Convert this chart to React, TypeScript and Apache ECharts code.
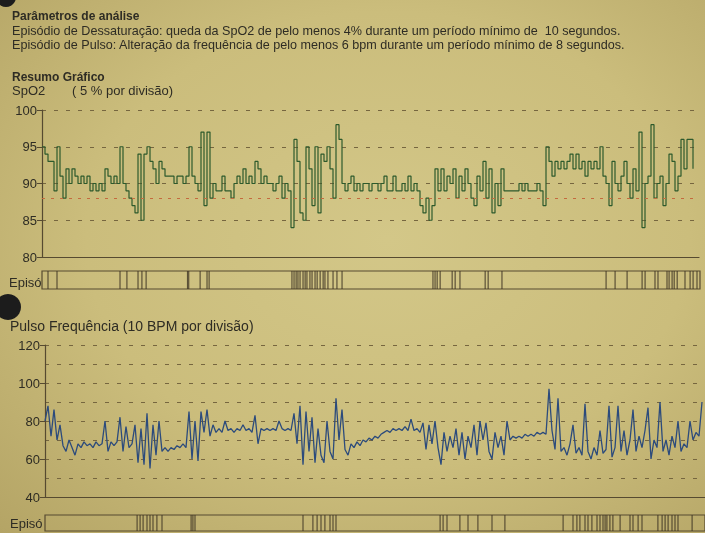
import React, { useEffect, useRef } from "react";
import * as echarts from "echarts";

const headerTitle = "Parâmetros de análise";
const headerLine1 = "Episódio de Dessaturação: queda da SpO2 de pelo menos 4% durante um período mínimo de  10 segundos.";
const headerLine2 = "Episódio de Pulso: Alteração da frequência de pelo menos 6 bpm durante um período mínimo de 8 segundos.";
const summaryTitle = "Resumo Gráfico";
const spo2Title = "SpO2";
const spo2Scale = "( 5 % por divisão)";
const pulseTitle = "Pulso Frequência (10 BPM por divisão)";
const episodeLabel = "Episó";

const spo2Ticks = [80, 85, 90, 95, 100];
const pulseTicks = [40, 60, 80, 100, 120];
const spo2Threshold = 88;

const spo2Values = [
  95, 94, 93, 93, 89, 95, 91, 88, 92, 90,
  92, 91, 90, 91, 90, 91, 89, 90, 89, 90,
  89, 92, 91, 90, 91, 90, 95, 90, 89, 88,
  87, 86, 94, 85, 94, 95, 93, 92, 90, 93,
  92, 91, 91, 91, 90, 91, 91, 90, 91, 95,
  91, 90, 89, 97, 87, 97, 88, 90, 89, 89,
  91, 89, 89, 88, 90, 91, 90, 92, 90, 91,
  90, 93, 92, 90, 91, 90,
  90, 89, 90, 91, 88, 90, 89, 84, 96, 93,
  86, 85, 95, 92, 87, 95, 86, 94, 93, 95,
  92, 88, 98, 96, 90,
  89, 90, 91, 89, 90, 89, 90, 90, 89, 90,
  90, 89, 90, 91, 89, 89, 91, 89, 89, 90,
  89, 91, 89, 90, 89, 87, 86, 88, 85, 87,
  92, 89, 92, 89, 91, 90, 92, 88, 91, 89,
  92, 90, 88, 87, 91, 89, 93, 88, 92, 86,
  90, 87, 92, 89, 89, 89, 89, 89, 90, 89,
  90, 89, 89, 89, 90, 89, 87, 95, 93, 91,
  93, 92, 93, 92, 93, 94, 92, 94, 92, 93,
  91, 93, 92, 93, 92, 95, 91, 90, 87, 93,
  90, 89, 91, 93, 90, 88, 92, 89, 97, 84,
  90, 91, 98, 88, 90, 91, 87, 90, 94, 93,
  89, 91, 96, 92, 96, 96, 92,
];

const pulseValues = [
  80, 88, 72, 86, 70, 78, 67, 64, 70, 66,
  62, 68, 66, 69, 67, 68, 66, 69, 67, 68,
  80, 64, 69, 67, 69, 82, 64, 77, 66, 68,
  78, 58, 76, 57, 84, 55, 78, 62, 80, 64,
  66, 64, 66, 65, 67, 66, 68, 66, 85, 60,
  80, 59, 85, 74, 86, 72, 78, 74, 76, 74,
  80, 75, 76, 74, 76, 75, 78, 75, 76, 74,
  83, 68, 76, 75, 76, 75, 76, 75, 80, 76,
  75, 76, 75, 84, 68, 88, 57, 85, 64, 82,
  58, 76, 62, 58, 80, 64, 60, 92, 70, 86,
  65, 62, 68, 66, 69, 67, 70, 69, 71, 70,
  72, 71, 73, 74, 75, 74, 76, 75, 76, 75,
  77, 75, 81, 75, 76, 74, 79, 65, 78, 68,
  80, 66, 57, 74, 64, 72, 66, 76, 62, 74,
  60, 72, 66, 78, 62, 80, 70, 79, 64, 60,
  74, 66, 72, 62, 80, 70, 72, 71, 72, 71,
  73, 72, 73, 72, 74, 73, 74, 73, 97, 75,
  65, 92, 64, 66, 62, 68, 78, 63, 66, 62,
  89, 64, 60, 66, 62, 75, 63, 65, 88, 61,
  66, 88, 64, 75, 62, 70, 86, 64, 72, 66,
  75, 87, 60, 70, 66, 90, 64, 70, 62, 72,
  66, 80, 64, 68, 66, 80, 70, 74, 72, 90,
];

const spo2Episodes = [
  2, 5, 26, 28.3, 32, 33.3, 34.7, 48.5, 48.9, 52.7, 55, 55.7,
  83.3, 84, 84.7, 85.3, 86, 87, 87.7, 88.3, 89.3, 90, 91, 91.7, 92.7, 93.7, 94.3, 95.3, 97, 98.3, 100,
  130.3, 131, 131.7, 132.7, 136.7, 137.7, 139.3, 147.7, 148.7, 153.3,
  188, 191, 195, 200, 201, 204.3, 205.3, 208.3, 209, 210, 210.7, 211.7, 214.3, 216, 217, 218.3,
];

const pulseEpisodes = [
  30.7, 31.7, 32.7, 34, 35, 36, 37.3, 39, 48.7, 49.3, 50,
  86, 89.3, 90.7, 92, 93.3, 95, 96, 97,
  131.7, 132.7, 134, 138.3, 141, 144.3, 149, 153.3,
  172.7, 176, 177.3, 178.3, 180, 181, 182.3, 184, 185, 186, 186.7, 187.3, 188.3, 189.3, 191.7,
  195, 196, 197.7, 199, 204.3, 205.7, 206.7, 207.7, 209, 210, 211, 215.7,
];

const TEXT = "#2e2c24";
const AXIS = "#564a30";
const GRID = "#76663f";
const GREEN = "#2d5a2c";
const BLUE = "#2c4b7c";
const RED = "#c46a3e";
const FONT = "'Liberation Sans', Arial, sans-serif";

export default function App() {
  const ref = useRef<HTMLDivElement>(null);

  useEffect(() => {
    if (!ref.current) return;
    const chart = echarts.init(ref.current, undefined, { renderer: "svg" });

    const dashed = { color: GRID, width: 1, type: [4, 8] as any };

    const option: any = {
      animation: false,
      backgroundColor: "transparent",
      textStyle: { fontFamily: FONT },
      grid: [
        { left: 42, top: 110, width: 657, height: 147 },
        { left: 42, top: 271, width: 658, height: 18, show: true, borderColor: AXIS, borderWidth: 1.2, backgroundColor: "transparent" },
        { left: 45, top: 345, width: 660, height: 152 },
        { left: 45, top: 515, width: 660, height: 16, show: true, borderColor: AXIS, borderWidth: 1.2, backgroundColor: "transparent" },
      ],
      xAxis: [
        { gridIndex: 0, type: "value", min: 0, max: 219, axisLine: { show: true, lineStyle: { color: AXIS, width: 1.2 } }, axisTick: { show: false }, axisLabel: { show: false }, splitLine: { show: false } },
        { gridIndex: 1, type: "value", min: 0, max: 219.3, show: false },
        { gridIndex: 2, type: "value", min: 0, max: 220, axisLine: { show: true, lineStyle: { color: AXIS, width: 1.2 } }, axisTick: { show: false }, axisLabel: { show: false }, splitLine: { show: false } },
        { gridIndex: 3, type: "value", min: 0, max: 220, show: false },
      ],
      yAxis: [
        {
          gridIndex: 0, type: "value", min: spo2Ticks[0], max: spo2Ticks[spo2Ticks.length - 1], interval: 5,
          axisLine: { show: true, lineStyle: { color: AXIS, width: 1.2 } },
          axisTick: { show: true, length: 5, lineStyle: { color: AXIS } },
          axisLabel: { color: TEXT, fontSize: 13, margin: 5, fontFamily: FONT },
          splitLine: { show: true, lineStyle: dashed },
        },
        { gridIndex: 1, type: "value", min: 0, max: 1, show: false },
        {
          gridIndex: 2, type: "value", min: pulseTicks[0], max: pulseTicks[pulseTicks.length - 1], interval: 20,
          axisLine: { show: true, lineStyle: { color: AXIS, width: 1.2 } },
          axisTick: { show: true, length: 5, lineStyle: { color: AXIS } },
          axisLabel: { color: TEXT, fontSize: 13, margin: 5, fontFamily: FONT },
          splitLine: { show: true, lineStyle: dashed },
          minorTick: { show: false, splitNumber: 2 },
          minorSplitLine: { show: true, lineStyle: dashed },
        },
        { gridIndex: 3, type: "value", min: 0, max: 1, show: false },
      ],
      series: [
        {
          name: "SpO2", type: "line", xAxisIndex: 0, yAxisIndex: 0, step: "end",
          showSymbol: false, symbol: "none",
          data: spo2Values.map((v, i) => [i, v]),
          lineStyle: { color: GREEN, width: 1.2 },
          markLine: {
            silent: true, symbol: "none", label: { show: false },
            lineStyle: { color: RED, type: [3, 6], width: 1 },
            data: [{ yAxis: spo2Threshold }],
          },
          z: 3,
        },
        {
          name: "EpisodiosSpO2", type: "scatter", xAxisIndex: 1, yAxisIndex: 1,
          symbol: "rect", symbolSize: [1.2, 18],
          itemStyle: { color: "#3e3424" },
          data: spo2Episodes.map((t) => [t, 0.5]),
        },
        {
          name: "Pulso", type: "line", xAxisIndex: 2, yAxisIndex: 2,
          showSymbol: false, symbol: "none",
          data: pulseValues.map((v, i) => [i, v]),
          lineStyle: { color: BLUE, width: 1.3 },
          z: 3,
        },
        {
          name: "EpisodiosPulso", type: "scatter", xAxisIndex: 3, yAxisIndex: 3,
          symbol: "rect", symbolSize: [1.2, 16],
          itemStyle: { color: "#3e3424" },
          data: pulseEpisodes.map((t) => [t, 0.5]),
        },
      ],
      graphic: [
        { type: "circle", shape: { cx: 6, cy: -3, r: 10 }, style: { fill: "#1c1c1c" } },
        { type: "circle", shape: { cx: 8, cy: 307, r: 13 }, style: { fill: "#1c1c1c" } },
        { type: "text", left: 12, top: 10, style: { text: headerTitle, font: `bold 12px ${FONT}`, lineHeight: 12, fill: TEXT } },
        { type: "text", left: 12, top: 24, style: { text: headerLine1, font: `12.6px ${FONT}`, lineHeight: 13, fill: TEXT } },
        { type: "text", left: 12, top: 38, style: { text: headerLine2, font: `12.6px ${FONT}`, lineHeight: 13, fill: TEXT } },
        { type: "text", left: 12, top: 71, style: { text: summaryTitle, font: `bold 12px ${FONT}`, lineHeight: 12, fill: TEXT } },
        { type: "text", left: 12, top: 84, style: { text: spo2Title, font: `13px ${FONT}`, lineHeight: 13, fill: TEXT } },
        { type: "text", left: 72, top: 84, style: { text: spo2Scale, font: `13px ${FONT}`, lineHeight: 13, fill: TEXT } },
        { type: "text", left: 9, top: 276, style: { text: episodeLabel, font: `13px ${FONT}`, lineHeight: 13, fill: TEXT } },
        { type: "text", left: 10, top: 319, style: { text: pulseTitle, font: `14px ${FONT}`, lineHeight: 14, fill: TEXT } },
        { type: "text", left: 10, top: 517, style: { text: episodeLabel, font: `13px ${FONT}`, lineHeight: 13, fill: TEXT } },
      ],
    };

    chart.setOption(option);
    return () => chart.dispose();
  }, []);

  return (
    <div
      style={{
        position: "fixed",
        left: 0,
        top: 0,
        width: 705,
        height: 533,
        background: "radial-gradient(ellipse at 55% 45%, #d3c788 0%, #cbbd7c 55%, #b4a465 100%)",
      }}
    >
      <div ref={ref} style={{ width: 705, height: 533 }} />
    </div>
  );
}
